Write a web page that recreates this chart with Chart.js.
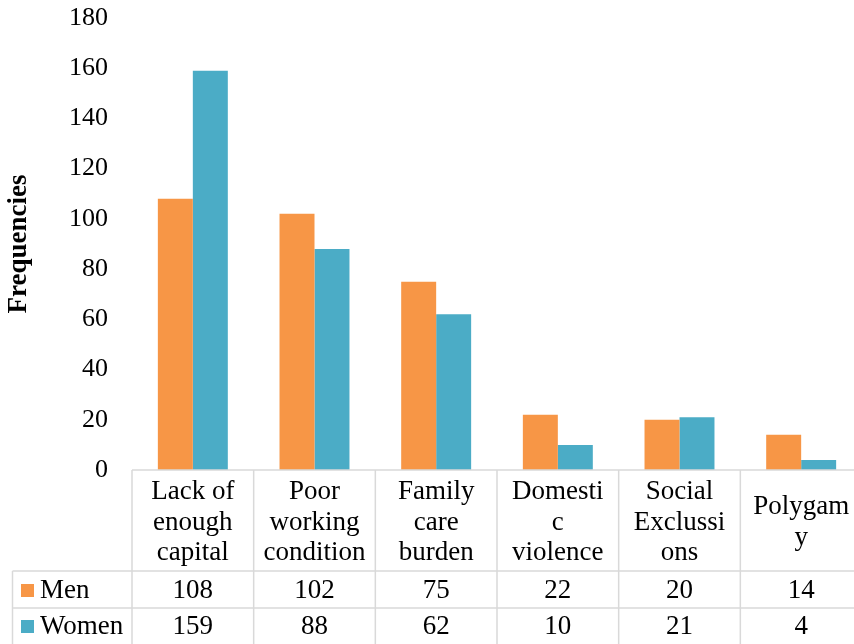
<!DOCTYPE html>
<html>
<head>
<meta charset="utf-8">
<script src="https://cdn.jsdelivr.net/npm/chart.js@4"></script>
<style>
html,body{margin:0;padding:0;background:#fff;overflow:hidden;}
#wrap{width:862px;height:644px;}
</style>
</head>
<body>
<div id="wrap"><canvas id="c" width="862" height="644"></canvas></div>
<script>
const categories = [
  ["Lack of","enough","capital"],
  ["Poor","working","condition"],
  ["Family","care","burden"],
  ["Domesti","c","violence"],
  ["Social","Exclussi","ons"],
  ["Polygam","y"]
];
const seriesNames = ["Men", "Women"];
const menValues = [108, 102, 75, 22, 20, 14];
const womenValues = [159, 88, 62, 10, 21, 4];
const yTicks = [0, 20, 40, 60, 80, 100, 120, 140, 160, 180];

const COLORS = ["#F79646", "#4BACC6"];
const FONT = "Liberation Serif";
const FS_TABLE = 27;
const FS_TICK = 26;

const tablePlugin = {
  id: 'dataTable',
  afterDraw(chart) {
    const ctx = chart.ctx;
    const xs = chart.scales.x;
    const area = chart.chartArea;
    const n = categories.length;
    const colW = (xs.getPixelForValue(1) - xs.getPixelForValue(0));
    const bounds = [];
    for (let i = 0; i <= n; i++) bounds.push(xs.getPixelForValue(i) - colW / 2);
    const top = area.bottom;
    const headBottom = top + 101;
    const row2 = headBottom + 37;
    const bottom = 700;
    const legendLeft = 12.5;
    ctx.save();
    ctx.strokeStyle = "#d9d9d9";
    ctx.lineWidth = 1.5;
    const hl = (x1, x2, y) => { ctx.beginPath(); ctx.moveTo(x1, y); ctx.lineTo(x2, y); ctx.stroke(); };
    const vl = (x, y1, y2) => { ctx.beginPath(); ctx.moveTo(x, y1); ctx.lineTo(x, y2); ctx.stroke(); };
    hl(bounds[0], bounds[n], top);
    hl(legendLeft, bounds[n], headBottom);
    hl(legendLeft, bounds[n], row2);
    for (let i = 0; i <= n; i++) vl(bounds[i], top, bottom);
    vl(legendLeft, headBottom, bottom);

    ctx.fillStyle = "#000";
    ctx.font = FS_TABLE + "px '" + FONT + "'";
    ctx.textAlign = "center";
    ctx.textBaseline = "middle";
    const lh = 30.5;
    const headMid = (top + headBottom) / 2 + 2;
    categories.forEach((lines, i) => {
      const cx = xs.getPixelForValue(i);
      const y0 = headMid - (lines.length - 1) * lh / 2;
      lines.forEach((t, j) => ctx.fillText(t, cx, y0 + j * lh));
    });
    const rows = [menValues, womenValues];
    const rowMids = [(headBottom + row2) / 2 + 1.5, row2 + 19];
    rows.forEach((vals, r) => {
      vals.forEach((v, i) => ctx.fillText(String(v), xs.getPixelForValue(i), rowMids[r]));
      ctx.fillStyle = COLORS[r];
      ctx.fillRect(21, rowMids[r] - 7, 13, 13);
      ctx.fillStyle = "#000";
      ctx.textAlign = "left";
      ctx.fillText(seriesNames[r], 40, rowMids[r]);
      ctx.textAlign = "center";
    });
    ctx.restore();
  }
};

new Chart(document.getElementById('c'), {
  type: 'bar',
  data: {
    labels: categories.map(c => c.join(' ')),
    datasets: [
      { label: seriesNames[0], data: menValues, backgroundColor: COLORS[0], barPercentage: 1, categoryPercentage: 0.575 },
      { label: seriesNames[1], data: womenValues, backgroundColor: COLORS[1], barPercentage: 1, categoryPercentage: 0.575 }
    ]
  },
  options: {
    responsive: false,
    devicePixelRatio: 1,
    animation: false,
    layout: { padding: { left: 0, right: 0, top: 18, bottom: 174 } },
    plugins: { legend: { display: false }, tooltip: { enabled: false } },
    scales: {
      x: { display: false },
      y: {
        min: 0, max: 180,
        afterBuildTicks: s => { s.ticks = yTicks.map(v => ({ value: v })); },
        afterFit: s => { s.width = 132; s.paddingTop = 0; s.paddingBottom = 0; },
        grid: { display: false },
        border: { display: false },
        ticks: { color: "#000", font: { family: FONT, size: FS_TICK }, padding: 16 },
        title: { display: true, text: "Frequencies", color: "#000", font: { family: FONT, size: 27, weight: 'bold' }, padding: { top: 3, bottom: 4 } }
      }
    }
  },
  plugins: [tablePlugin]
});
</script>
</body>
</html>
